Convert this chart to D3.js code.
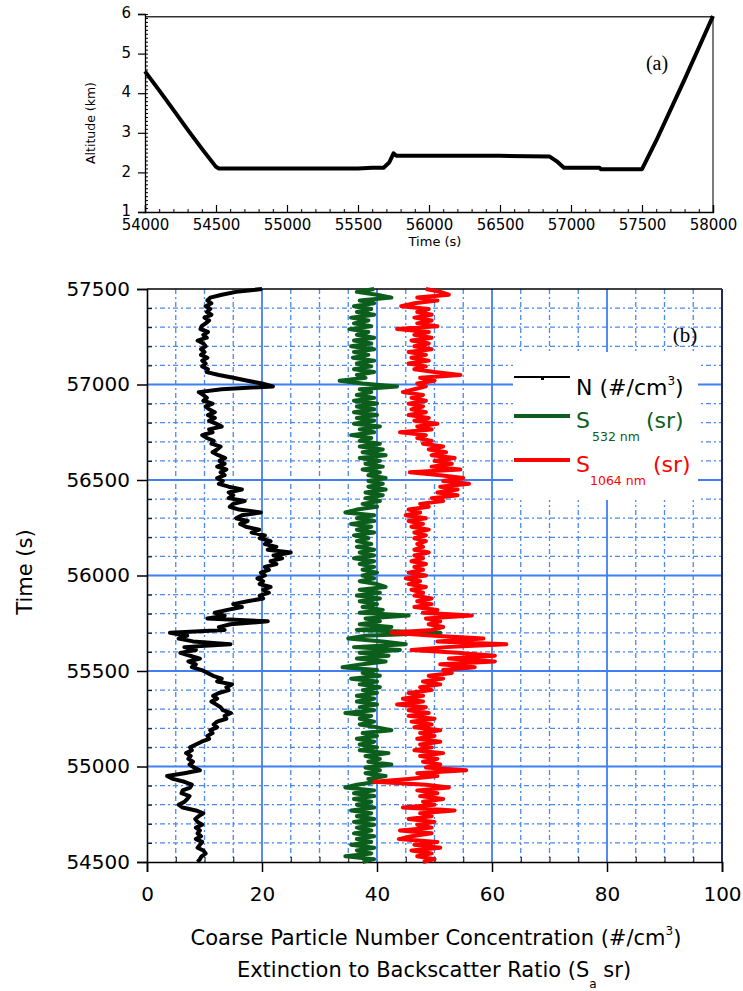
<!DOCTYPE html>
<html lang="en">

<head>
    <meta charset="utf-8">
    <title>Altitude and profiles</title>
    <script src="https://d3js.org/d3.v7.min.js"></script>
    <style>
        body { margin: 0; background: #fff; }
    </style>
</head>

<body>
    <div id="chart"></div>
    <script>

        // ---- panel (a): altitude vs time ----
        var altTime = [54000, 54100, 54200, 54300, 54400, 54500, 54520, 55000, 55500, 55600,
            55680, 55720, 55750, 55770, 56000, 56500, 56850, 56900, 56950, 57200,
            57210, 57500, 57600, 57800, 58000];
        var altKm = [4.55, 4.07, 3.58, 3.08, 2.6, 2.14, 2.1, 2.1, 2.1, 2.12,
            2.12, 2.25, 2.48, 2.42, 2.42, 2.42, 2.4, 2.28, 2.12, 2.12,
            2.08, 2.08, 2.8, 4.35, 5.95];

        // ---- panel (b): profiles vs time (every 15 s, top to bottom) ----
        var profTime = [
            57500, 57485, 57470, 57455, 57440, 57425, 57410, 57395, 57380, 57365,
            57350, 57335, 57320, 57305, 57290, 57275, 57260, 57245, 57230, 57215,
            57200, 57185, 57170, 57155, 57140, 57125, 57110, 57095, 57080, 57065,
            57050, 57035, 57020, 57005, 56990, 56975, 56960, 56945, 56930, 56915,
            56900, 56885, 56870, 56855, 56840, 56825, 56810, 56795, 56780, 56765,
            56750, 56735, 56720, 56705, 56690, 56675, 56660, 56645, 56630, 56615,
            56600, 56585, 56570, 56555, 56540, 56525, 56510, 56495, 56480, 56465,
            56450, 56435, 56420, 56405, 56390, 56375, 56360, 56345, 56330, 56315,
            56300, 56285, 56270, 56255, 56240, 56225, 56210, 56195, 56180, 56165,
            56150, 56135, 56120, 56105, 56090, 56075, 56060, 56045, 56030, 56015,
            56000, 55985, 55970, 55955, 55940, 55925, 55910, 55895, 55880, 55865,
            55850, 55835, 55820, 55805, 55790, 55775, 55760, 55745, 55730, 55715,
            55700, 55685, 55670, 55655, 55640, 55625, 55610, 55595, 55580, 55565,
            55550, 55535, 55520, 55505, 55490, 55475, 55460, 55445, 55430, 55415,
            55400, 55385, 55370, 55355, 55340, 55325, 55310, 55295, 55280, 55265,
            55250, 55235, 55220, 55205, 55190, 55175, 55160, 55145, 55130, 55115,
            55100, 55085, 55070, 55055, 55040, 55025, 55010, 54995, 54980, 54965,
            54950, 54935, 54920, 54905, 54890, 54875, 54860, 54845, 54830, 54815,
            54800, 54785, 54770, 54755, 54740, 54725, 54710, 54695, 54680, 54665,
            54650, 54635, 54620, 54605, 54590, 54575, 54560, 54545, 54530, 54515,
            54500];
        var numberN = [
            20, 15.5, 13, 11, 10.5, 11.2, 10.2, 11, 10.4, 11.2,
            10, 10.8, 10.2, 9.5, 9.3, 10.6, 9.8, 10.4, 8.8, 9.8,
            10.2, 9.4, 10.0, 9.4, 10.5, 9.6, 10.2, 9.6, 10.6, 10.4,
            12.5, 15, 17.5, 20, 21.9, 13, 9.0, 9.8, 10.4, 9.8,
            11.4, 10.2, 10.8, 11.8, 10.6, 11.8, 10.8, 12, 13.0, 10.8,
            11.4, 9.6, 10.4, 11.6, 11.2, 12.8, 12.2, 11.4, 12.4, 13.6,
            12.6, 13.5, 12.2, 13.8, 12.8, 13.5, 12.2, 13.2, 12.5, 14.2,
            16.5, 14.2, 15, 14.2, 17, 15, 14.4, 16, 19.8, 16.5,
            15.5, 17.5, 16.2, 17.2, 19.5, 18.2, 20.5, 19.6, 21.5, 20.5,
            22.5, 21, 25, 22, 23.5, 21.5, 22.5, 20.5, 21.2, 19.8,
            20.5, 19.2, 20.2, 19.6, 21.5, 20.2, 21.2, 19.6, 20.2, 17.5,
            15, 16.5, 14, 11.8, 13.5, 10.5, 21, 14.5, 12.5, 13.5,
            4, 7, 5.5, 8, 14.5, 6.5, 8.5, 5.8, 7.5, 9.2,
            7.2, 8.5, 7.8, 9.5, 10.5, 11.5, 13, 12.2, 14.8, 13.8,
            14.2, 12.5, 11.5, 12.2, 11.2, 12, 12.8, 13.2, 14.6, 13.5,
            13.8, 12.2, 11.6, 12.2, 11, 11.4, 10.5, 10.8, 9.5, 8.5,
            7.5, 7.8, 6.8, 7.6, 7.2, 8, 7.4, 8.2, 9.2, 6.5,
            3.5, 4.5, 6.5, 7.8, 7.5, 6.2, 6, 7.4, 7, 6.5,
            5.5, 6.2, 8.5, 9.8, 9, 8.4, 8.8, 9.6, 8.5, 9.2,
            8.8, 9.4, 8.5, 9.6, 9.2, 8.8, 9.8, 10.2, 9.5, 9.2,
            8.8];
        var s532 = [
            39.5, 36.5, 40, 42.5, 37, 39.5, 36, 39, 36.5, 39.5,
            35.5, 38.5, 36, 39, 35.2, 38.5, 36.5, 39.5, 36, 39,
            35.5, 39.5, 36, 38.5, 35.8, 39.5, 36.5, 39, 36, 39.5,
            36.5, 38, 33.5, 37.5, 43.5, 37, 39, 36.5, 39.5, 36,
            40, 36.5, 39.5, 36, 40, 36.5, 39.5, 36, 40.5, 37,
            39.5, 35.5, 39, 37, 40.5, 37, 41, 37.5, 41.5, 37,
            40.5, 38, 41, 37.5, 40.5, 38.5, 41.5, 38.5, 41, 38.5,
            41.5, 38, 41, 38, 40.5, 37.5, 40, 36.5, 34.5, 39.5,
            36.5, 39.5, 35.5, 39, 36.5, 39.5, 36, 38.5, 36.5, 39,
            36.5, 39.5, 37, 39.5, 36, 39.5, 37, 39.5, 37.5, 40,
            37.5, 39.5, 37, 40, 41.5, 37, 40.5, 36.5, 40.5, 37,
            40, 37.5, 41, 37, 45.5, 38, 40.5, 37, 42.5, 36.5,
            51, 38, 35, 41, 45, 36, 44, 37, 42, 36.5,
            41.5, 37.5, 34, 40, 37.5, 40.5, 35.5, 40, 37, 40.5,
            37.5, 40, 36.5, 39.5, 36.5, 40, 37, 39.5, 34.5, 39,
            37, 39.5, 37, 40, 42.5, 37.5, 40, 36.5, 39.5, 37,
            40, 37, 42, 38, 40.5, 38.5, 42.5, 38, 40.5, 38,
            41.5, 38.5, 40, 36.5, 34.5, 39.5, 36, 39.5, 36, 39,
            36.5, 39.5, 35.5, 39, 36.5, 39.5, 36, 39.5, 36.5, 39,
            36, 39.5, 36.5, 39, 35.5, 39.5, 36.5, 39, 34.5, 39.5,
            37.5];
        var s1064 = [
            48.5, 51, 52.5, 47, 50.5, 46.5, 44.2, 49, 47, 49.5,
            46.5, 49.5, 47, 50.5, 43.5, 49, 46.5, 49.5, 46, 49,
            46.5, 49.5, 45.5, 48.5, 46, 49, 45.5, 48.5, 46.5, 50,
            54.5, 47.5, 50, 47, 48.5, 46.5, 44.5, 48, 46, 48.5,
            45.5, 48, 46, 48.5, 45.5, 49, 46.5, 50.5, 47, 49.5,
            44, 48.5, 47, 49.5, 48, 51.5, 49, 52, 49.5, 53.5,
            50, 53, 49.5, 54.5, 45.7, 51, 55, 51.5, 56, 51,
            54, 50.5, 54, 49.5, 51.5, 47.5, 49, 45.5, 47.5, 45,
            48.5, 45.5, 48, 46, 49, 46.5, 48.5, 46.5, 48.5, 47,
            48, 46.5, 49, 46.5, 48, 46, 48.5, 46.5, 48, 45.5,
            48.5, 45, 47.5, 45.5, 48.5, 46, 48, 46.5, 49.5, 47,
            49.5, 46.5, 50.5, 48, 56.5, 48.5, 51, 49, 51.5, 49.5,
            42.5, 50, 58.5, 50.5, 62.5, 52, 46, 54, 60.5, 52.5,
            60.5, 51, 57, 51.5, 53, 49, 51.5, 48, 51, 47.5,
            49.5, 45.5, 48, 44.5, 48, 43.5, 48.5, 45.5, 49, 45.5,
            50, 46, 49.5, 46.5, 51, 47.5, 50, 47, 51, 47.5,
            49.5, 46.5, 51.5, 47.5, 50.5, 48, 51, 48.5, 55.5, 47,
            50.5, 45.5, 39.5, 48.5, 52.5, 47, 50.5, 47.5, 51.5, 48,
            50, 44.5, 53.5, 47.5, 49.5, 45.5, 50, 47, 49.5, 44,
            49.5, 46, 43.8, 50.5, 46.5, 51, 46, 49.5, 47, 50,
            48];

        var altTicks = [54000, 54500, 55000, 55500, 56000, 56500, 57000, 57500, 58000];
        var altYTicks = [1, 2, 3, 4, 5, 6];
        var profXTicks = [0, 20, 40, 60, 80, 100];
        var profYTicks = [54500, 55000, 55500, 56000, 56500, 57000, 57500];

        var W = 743, H = 991;
        var tickFont = "'DejaVu Sans', Verdana, sans-serif";
        var labelFont = "'Comic Sans MS', 'DejaVu Sans', sans-serif";
        var green = "#0b5e1c", red = "#ff0000";
        var gridMajor = "#3f7ff2", gridMinor = "#4a88f2";

        var svg = d3.select("#chart")
            .append("svg")
            .attr("width", W)
            .attr("height", H)
            .style("background", "#fff");

        // ================= panel (a) =================
        var xA = d3.scaleLinear().domain([54000, 58000]).range([145, 713]);
        var yA = d3.scaleLinear().domain([1, 6]).range([212, 14]);

        // frame (top and right)
        svg.append("line").attr("x1", xA(54000)).attr("x2", xA(58000))
            .attr("y1", yA(5.93)).attr("y2", yA(5.93))
            .attr("stroke", "#333").attr("stroke-width", 1.3);
        svg.append("line").attr("x1", xA(58000)).attr("x2", xA(58000))
            .attr("y1", yA(5.93)).attr("y2", yA(1))
            .attr("stroke", "#333").attr("stroke-width", 1.3);

        // minor ticks
        svg.append("g")
            .attr("transform", "translate(0," + yA(1) + ")")
            .call(d3.axisBottom(xA).tickValues(d3.range(54000, 58001, 100)).tickSize(-3).tickFormat(""))
            .call(function (g) { g.select(".domain").remove(); });
        svg.append("g")
            .attr("transform", "translate(" + xA(54000) + ",0)")
            .call(d3.axisLeft(yA).tickValues(d3.range(1, 6.001, 0.1)).tickSize(-3).tickFormat(""))
            .call(function (g) { g.select(".domain").remove(); });

        var axA = svg.append("g")
            .attr("transform", "translate(0," + yA(1) + ")")
            .call(d3.axisBottom(xA).tickValues(altTicks).tickSize(-7).tickPadding(7).tickFormat(d3.format("d")));
        var ayA = svg.append("g")
            .attr("transform", "translate(" + xA(54000) + ",0)")
            .call(d3.axisLeft(yA).tickValues(altYTicks).tickSize(7).tickPadding(7).tickFormat(d3.format("d")));
        [axA, ayA].forEach(function (g) {
            g.selectAll("text").style("font-family", tickFont).style("font-size", "15px").attr("fill", "#000");
            g.select(".domain").attr("stroke-width", 1.3);
            g.selectAll("line").attr("stroke-width", 1.2);
        });
        ayA.selectAll("text").attr("dy", "0.25em");

        var altLine = d3.line()
            .x(function (d, i) { return xA(altTime[i]); })
            .y(function (d) { return yA(d); });
        svg.append("path")
            .attr("d", altLine(altKm))
            .attr("fill", "none")
            .attr("stroke", "#000")
            .attr("stroke-width", 4)
            .attr("stroke-linejoin", "round");

        svg.append("text")
            .attr("transform", "translate(95,123) rotate(-90)")
            .attr("text-anchor", "middle")
            .style("font-family", tickFont)
            .style("font-size", "12.5px")
            .text("Altitude (km)");
        svg.append("text")
            .attr("x", 435).attr("y", 246)
            .attr("text-anchor", "middle")
            .style("font-family", tickFont)
            .style("font-size", "13px")
            .text("Time (s)");
        svg.append("text")
            .attr("x", 657).attr("y", 70)
            .attr("text-anchor", "middle")
            .style("font-family", "'Liberation Serif', 'DejaVu Serif', serif")
            .style("font-size", "20px")
            .text("(a)");

        // ================= panel (b) =================
        var xB = d3.scaleLinear().domain([0, 100]).range([147, 722]);
        var yB = d3.scaleLinear().domain([54500, 57500]).range([862, 289]);

        var minorX = d3.range(5, 100, 5).filter(function (v) { return v % 20 !== 0; });
        var minorY = d3.range(54600, 57500, 100).filter(function (v) { return v % 500 !== 0; });
        var majorX = [20, 40, 60, 80];
        var majorY = [55000, 55500, 56000, 56500, 57000];

        var grid = svg.append("g");
        grid.selectAll(".mx").data(minorX).enter().append("line")
            .attr("x1", xB).attr("x2", xB).attr("y1", yB(57500)).attr("y2", yB(54500))
            .attr("stroke", gridMinor).attr("stroke-width", 1.3).attr("stroke-dasharray", "5,3,2,3");
        grid.selectAll(".my").data(minorY).enter().append("line")
            .attr("y1", yB).attr("y2", yB).attr("x1", xB(0)).attr("x2", xB(100))
            .attr("stroke", gridMinor).attr("stroke-width", 1.3).attr("stroke-dasharray", "5,3,2,3");
        grid.selectAll(".Mx").data(majorX).enter().append("line")
            .attr("x1", xB).attr("x2", xB).attr("y1", yB(57500)).attr("y2", yB(54500))
            .attr("stroke", gridMajor).attr("stroke-width", 1.8);
        grid.selectAll(".My").data(majorY).enter().append("line")
            .attr("y1", yB).attr("y2", yB).attr("x1", xB(0)).attr("x2", xB(100))
            .attr("stroke", gridMajor).attr("stroke-width", 1.8);

        // legend box hides the grid behind it
        svg.append("rect")
            .attr("x", 513).attr("y", 352).attr("width", 185).attr("height", 148)
            .attr("fill", "#fff");

        // frame
        svg.append("line").attr("x1", xB(0)).attr("x2", xB(100)).attr("y1", yB(57500)).attr("y2", yB(57500))
            .attr("stroke", "#000").attr("stroke-width", 1.6);
        svg.append("line").attr("x1", xB(100)).attr("x2", xB(100)).attr("y1", yB(57500)).attr("y2", yB(54500))
            .attr("stroke", "#1d2b5e").attr("stroke-width", 2);

        // minor ticks
        svg.append("g")
            .attr("transform", "translate(" + xB(0) + ",0)")
            .call(d3.axisLeft(yB).tickValues(minorY).tickSize(-5).tickFormat(""))
            .call(function (g) { g.select(".domain").remove(); });
        svg.append("g")
            .attr("transform", "translate(0," + yB(54500) + ")")
            .call(d3.axisBottom(xB).tickValues(minorX).tickSize(-5).tickFormat(""))
            .call(function (g) { g.select(".domain").remove(); });

        var axB = svg.append("g")
            .attr("transform", "translate(0," + yB(54500) + ")")
            .call(d3.axisBottom(xB).tickValues(profXTicks).tickSize(10).tickPadding(15));
        var ayB = svg.append("g")
            .attr("transform", "translate(" + xB(0) + ",0)")
            .call(d3.axisLeft(yB).tickValues(profYTicks).tickSize(10).tickPadding(7).tickFormat(d3.format("d")));
        [axB, ayB].forEach(function (g) {
            g.selectAll("text").style("font-family", tickFont).style("font-size", "20px").attr("fill", "#000");
            g.select(".domain").attr("stroke-width", 1.6);
            g.selectAll("line").attr("stroke-width", 1.5);
        });

        // profile traces
        var series = [
            { name: "N", values: numberN, color: "#000" },
            { name: "S532", values: s532, color: green },
            { name: "S1064", values: s1064, color: red }
        ];
        var profLine = d3.line()
            .x(function (d) { return xB(d); })
            .y(function (d, i) { return yB(profTime[i]); });
        svg.selectAll("myLines")
            .data(series)
            .enter()
            .append("path")
            .attr("d", function (d) { return profLine(d.values); })
            .attr("fill", "none")
            .attr("stroke", function (d) { return d.color; })
            .attr("stroke-width", 4)
            .attr("stroke-linejoin", "round");

        // legend
        var leg = svg.append("g");
        leg.append("line").attr("x1", 514).attr("x2", 570).attr("y1", 377).attr("y2", 377)
            .attr("stroke", "#000").attr("stroke-width", 2);
        leg.append("rect").attr("x", 541).attr("y", 377).attr("width", 3).attr("height", 3).attr("fill", "#000");
        leg.append("line").attr("x1", 514).attr("x2", 570).attr("y1", 416).attr("y2", 416)
            .attr("stroke", green).attr("stroke-width", 4);
        leg.append("line").attr("x1", 514).attr("x2", 570).attr("y1", 460).attr("y2", 460)
            .attr("stroke", red).attr("stroke-width", 4);

        var t1 = leg.append("text").attr("x", 576).attr("y", 395)
            .style("font-family", labelFont).style("font-size", "22px").attr("fill", "#000");
        t1.append("tspan").text("N (#/cm");
        t1.append("tspan").attr("dy", -10).style("font-size", "12px").text("3");
        t1.append("tspan").attr("dy", 10).text(")");

        leg.append("text").attr("x", 576).attr("y", 428)
            .style("font-family", labelFont).style("font-size", "22px").attr("fill", green).text("S");
        leg.append("text").attr("x", 592).attr("y", 441)
            .style("font-family", labelFont).style("font-size", "12.5px").attr("fill", green).text("532 nm");
        leg.append("text").attr("x", 646).attr("y", 428)
            .style("font-family", labelFont).style("font-size", "22px").attr("fill", green).text("(sr)");

        leg.append("text").attr("x", 576).attr("y", 472)
            .style("font-family", labelFont).style("font-size", "22px").attr("fill", red).text("S");
        leg.append("text").attr("x", 590).attr("y", 485)
            .style("font-family", labelFont).style("font-size", "12.5px").attr("fill", red).text("1064 nm");
        leg.append("text").attr("x", 653).attr("y", 472)
            .style("font-family", labelFont).style("font-size", "22px").attr("fill", red).text("(sr)");

        svg.append("text")
            .attr("x", 685).attr("y", 342)
            .attr("text-anchor", "middle")
            .style("font-family", "'Liberation Serif', 'DejaVu Serif', serif")
            .style("font-size", "21px")
            .text("(b)");

        // axis titles
        svg.append("text")
            .attr("transform", "translate(32,572) rotate(-90)")
            .attr("text-anchor", "middle")
            .style("font-family", labelFont)
            .style("font-size", "21px")
            .text("Time (s)");

        var xt1 = svg.append("text").attr("x", 436).attr("y", 945)
            .attr("text-anchor", "middle")
            .style("font-family", labelFont).style("font-size", "21px");
        xt1.append("tspan").text("Coarse Particle Number Concentration (#/cm");
        xt1.append("tspan").attr("dy", -10).style("font-size", "12px").text("3");
        xt1.append("tspan").attr("dy", 10).text(")");

        var xt2 = svg.append("text").attr("x", 434).attr("y", 977)
            .attr("text-anchor", "middle")
            .style("font-family", labelFont).style("font-size", "21px");
        xt2.append("tspan").text("Extinction to Backscatter Ratio (S");
        xt2.append("tspan").attr("dy", 11).style("font-size", "12px").text("a");
        xt2.append("tspan").attr("dy", -11).text(" sr)");

    </script>
</body>

</html>
